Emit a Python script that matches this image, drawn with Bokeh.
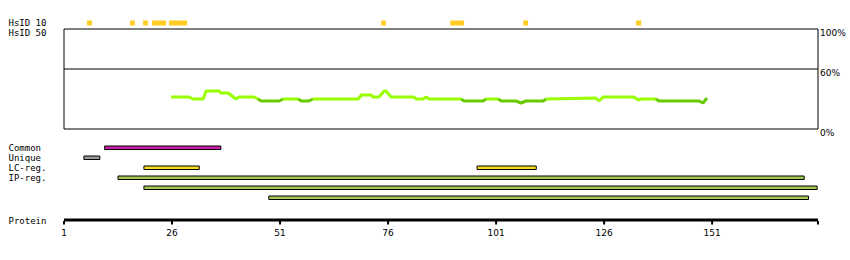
from bokeh.plotting import figure
from bokeh.models import Range1d
from bokeh.core.properties import value
from bokeh.embed import file_html
from bokeh.resources import INLINE

# ---------------- data ----------------
protein_end = 175.5
axis_ticks = [1, 26, 51, 76, 101, 126, 151]
axis_labels = ["1", "26", "51", "76", "101", "126", "151"]

# HsID 10 hits (residue spans)
hsid10_start = [6.3, 16.3, 19.3, 21.4, 25.3, 74.4, 90.4, 107.3, 133.4]
hsid10_end = [7.5, 17.4, 20.4, 24.6, 29.5, 75.5, 93.6, 108.4, 134.6]

# identity profile (residue, %)
ident_pos = [25.8, 29.9, 30.9, 33.2, 33.9, 36.9, 37.3, 39.0, 40.8, 41.5,
             45.0, 45.9, 46.6, 50.8, 51.7, 55.2, 55.9, 57.7, 58.6, 69.1,
             69.8, 72.1, 72.5, 73.9, 75.1, 75.5, 76.7, 82.0, 82.5, 84.1,
             84.8, 85.5, 92.9, 93.6, 98.0, 98.7, 101.5, 102.2, 105.6, 106.8,
             107.9, 111.9, 112.6, 124.1, 124.8, 125.8, 132.9, 133.9, 134.6, 138.0,
             138.7, 148.0, 148.9, 149.8]
ident_pct = [32, 32, 30, 30, 38, 38, 36, 36, 30, 32,
             32, 30, 28, 28, 30, 30, 28, 28, 30, 30,
             34, 34, 32, 32, 38, 38, 32, 32, 30, 30,
             32, 30, 30, 28, 28, 30, 30, 28, 28, 26,
             28, 28, 30, 31, 28, 32, 32, 29, 30, 30,
             28, 28, 26, 31]
ident_threshold = 29.5

pct_ticks = [100, 60, 0]
pct_labels = ["100%", "60%", "0%"]

common_start, common_end = [10.4], [37.3]
unique_start, unique_end = [5.6], [9.3]
lc_start, lc_end = [19.5, 96.6], [32.3, 110.3]
ip_start, ip_end = [13.5, 19.5, 48.4], [172.3, 175.3, 173.3]

row_labels = ["HsID 10", "HsID 50", "Common", "Unique", "LC-reg.", "IP-reg.", "Protein"]

# ---------------- layout ----------------
W, H = 850, 260
scale = (817.5 - 63.5) / (protein_end - 1)
x0 = 1 - 63.5 / scale
x1 = x0 + W / scale

p = figure(width=W, height=H, output_backend="svg", toolbar_location=None,
           x_axis_type=None, y_axis_type=None,
           x_range=Range1d(x0, x1), y_range=Range1d(H, 0),
           min_border=0, outline_line_color=None,
           background_fill_color="white", border_fill_color="white")
p.grid.visible = False
p.extra_y_ranges = {"pct": Range1d(128.5 - H, 128.5)}

MONO = value("DejaVu Sans Mono")
SANS = value("DejaVu Sans")

# HsID 10 squares
p.quad(left=hsid10_start, right=hsid10_end, top=20, bottom=25,
       fill_color="#FFCC22", line_color=None)

# identity box
p.quad(left=[1], right=[protein_end], top=[100], bottom=[0], y_range_name="pct",
       fill_color=None, line_color="black", line_width=1)
p.segment(x0=[1], x1=[protein_end], y0=[60], y1=[60], y_range_name="pct",
          line_color="black", line_width=1)
p.text(x=[protein_end] * 3, y=pct_ticks, text=pct_labels, y_range_name="pct",
       x_offset=2, y_offset=-1, text_baseline="top", text_align="left",
       text_font=SANS, text_font_size="9px", text_color="black")

# identity line coloured by level
xs, ys, cols = [], [], []
for i in range(len(ident_pos) - 1):
    c = "#66CC00" if (ident_pct[i] + ident_pct[i + 1]) / 2 < ident_threshold else "#99FF00"
    if cols and cols[-1] == c:
        xs[-1].append(ident_pos[i + 1]); ys[-1].append(ident_pct[i + 1])
    else:
        xs.append([ident_pos[i], ident_pos[i + 1]])
        ys.append([ident_pct[i], ident_pct[i + 1]])
        cols.append(c)
p.multi_line(xs=xs, ys=ys, line_color=cols, line_width=3, y_range_name="pct")

# feature tracks
def track(starts, ends, top, color):
    p.quad(left=starts, right=ends, top=top, bottom=top + 3.5,
           fill_color=color, line_color="black", line_width=1)

track(common_start, common_end, 145.5, "#CC22AA")
track(unique_start, unique_end, 155.5, "#999999")
track(lc_start, lc_end, 165.5, "#F5DC1E")
for i in range(len(ip_start)):
    track([ip_start[i]], [ip_end[i]], 175.5 + 10 * i, "#A2C853")

# left labels
p.text(x=[x0] * 7, y=[22.7, 32.7, 147.5, 157.5, 167.5, 177.5, 220.0], text=row_labels,
       x_offset=8, text_baseline="middle", text_align="left",
       text_font=MONO, text_font_size="9px", text_color="black")

# protein axis (line, ticks, labels on the residue scale)
AXIS_Y = 219.5
p.segment(x0=[1], x1=[protein_end], y0=[AXIS_Y], y1=[AXIS_Y],
          line_color="black", line_width=3, line_cap="butt")
tick_x = axis_ticks + [protein_end]
p.segment(x0=tick_x, x1=tick_x, y0=[AXIS_Y + 1] * len(tick_x), y1=[AXIS_Y + 4.5] * len(tick_x),
          line_color="black", line_width=2)
p.text(x=axis_ticks, y=[231.5] * len(axis_ticks), text=axis_labels,
       text_align="center", text_baseline="middle",
       text_font=SANS, text_font_size="9px", text_color="black")

open("out.html", "w").write(file_html(p, INLINE))
